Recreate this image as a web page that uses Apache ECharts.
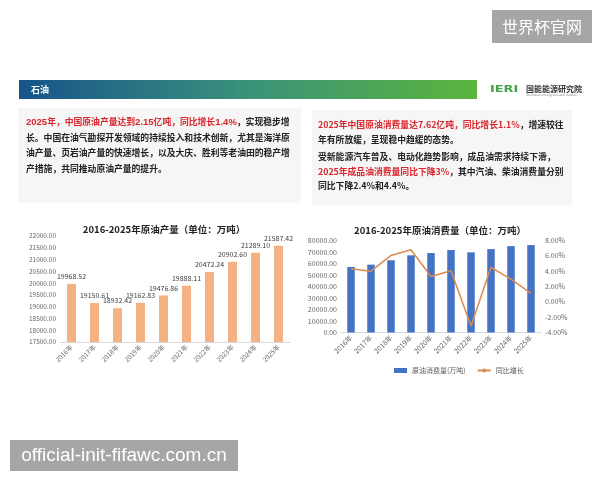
<!DOCTYPE html>
<html>
<head>
<meta charset="utf-8">
<title>石油</title>
<script src="https://cdn.jsdelivr.net/npm/echarts@6/dist/echarts.min.js"></script>
<style>
html,body{margin:0;padding:0;background:#fff;}
#main{width:600px;height:480px;}
</style>
</head>
<body>
<div id="main"></div>
<script>
// 数据
var years = ['2016年','2017年','2018年','2019年','2020年','2021年','2022年','2023年','2024年','2025年'];
var outputValues = [19968.52, 19150.61, 18932.42, 19162.83, 19476.86, 19888.11, 20472.24, 20902.60, 21289.10, 21587.42];
var consumeValues = [57000, 59000, 62800, 67100, 69100, 71700, 69700, 72500, 75100, 76000];
var growthValues = [4.3, 4.0, 6.05, 6.8, 3.3, 4.05, -3.15, 4.5, 2.95, 1.1];

var font = 'Noto Sans CJK SC';
var red = '#D9262C';
var ink = '#222';

var myChart = echarts.init(document.getElementById('main'));

// 文本框样式
var boxRich = function (lh) {
    return {
        r: { fill: red, fontSize: 8.8, fontWeight: 'bold', fontFamily: font, lineHeight: lh },
        n: { fill: red, fontSize: 9.5, fontWeight: 'bold', fontFamily: 'Liberation Sans', lineHeight: lh },
        k: { fill: ink, fontSize: 8.8, fontWeight: 'bold', fontFamily: font, lineHeight: lh }
    };
};

var option = {
    backgroundColor: '#fff',
    animation: false,
    textStyle: { fontFamily: font },
    title: [
        {
            text: '2016-2025年原油产量（单位：万吨）',
            left: 159, top: 220, textAlign: 'center',
            textStyle: { fontSize: 9.5, fontWeight: 'bold', color: ink, fontFamily: font }
        },
        {
            text: '2016-2025年原油消费量（单位：万吨）',
            left: 435, top: 221, textAlign: 'center',
            textStyle: { fontSize: 9.5, fontWeight: 'bold', color: ink, fontFamily: font }
        }
    ],
    legend: {
        left: 389, top: 362,
        itemWidth: 13, itemHeight: 5, itemGap: 11,
        textStyle: { fontSize: 7, color: '#595959', fontFamily: font },
        data: [
            { name: '原油消费量(万吨)', icon: 'rect' },
            { name: '同比增长' }
        ]
    },
    grid: [
        { left: 60, top: 236, width: 230, height: 106 },
        { left: 341, top: 240.5, width: 200, height: 92 }
    ],
    xAxis: [
        {
            type: 'category', gridIndex: 0, data: years,
            axisLine: { lineStyle: { color: '#D9D9D9' } },
            axisTick: { show: false },
            axisLabel: { rotate: 45, fontSize: 6.5, color: '#666', margin: 4, interval: 0 }
        },
        {
            type: 'category', gridIndex: 1, data: years,
            axisLine: { lineStyle: { color: '#D9D9D9' } },
            axisTick: { show: false },
            axisLabel: { rotate: 45, fontSize: 7, color: '#666', margin: 4, interval: 0 }
        }
    ],
    yAxis: [
        {
            type: 'value', gridIndex: 0, min: 17500, max: 22000, interval: 500,
            splitLine: { show: false },
            axisLabel: { fontSize: 6.5, color: '#666', margin: 4,
                formatter: function (v) { return v.toFixed(2); } }
        },
        {
            type: 'value', gridIndex: 1, min: 0, max: 80000, interval: 10000,
            splitLine: { show: false },
            axisLabel: { fontSize: 7, color: '#666', margin: 4,
                formatter: function (v) { return v.toFixed(2); } }
        },
        {
            type: 'value', gridIndex: 1, position: 'right', min: -4, max: 8, interval: 2,
            splitLine: { show: false },
            axisLine: { show: false },
            axisLabel: { fontSize: 7, color: '#666', margin: 4,
                formatter: function (v) { return v.toFixed(2) + '%'; } }
        }
    ],
    series: [
        {
            name: '原油产量', type: 'bar', xAxisIndex: 0, yAxisIndex: 0,
            data: outputValues, barWidth: 9,
            itemStyle: { color: '#F4B183' },
            label: { show: true, position: 'top', distance: 4, fontSize: 7, color: '#404040',
                formatter: function (p) { return p.value.toFixed(2); } }
        },
        {
            name: '原油消费量(万吨)', type: 'bar', xAxisIndex: 1, yAxisIndex: 1,
            data: consumeValues, barWidth: 7.5,
            itemStyle: { color: '#4472C4' }
        },
        {
            name: '同比增长', type: 'line', xAxisIndex: 1, yAxisIndex: 2,
            data: growthValues, symbol: 'none', z: 5,
            lineStyle: { color: '#DC8A4E', width: 1.5 },
            itemStyle: { color: '#DC8A4E' }
        }
    ],
    graphic: [
        // 顶部水印
        { type: 'rect', shape: { x: 492, y: 10, width: 100, height: 33 }, style: { fill: '#A6A6A6' } },
        { type: 'text', style: { x: 542, y: 26.5, text: '世界杯官网', fill: '#fff', font: '16px "Noto Sans CJK SC"', textAlign: 'center', textVerticalAlign: 'middle' } },
        // 标题条
        { type: 'rect', shape: { x: 19, y: 80, width: 458, height: 19 },
          style: { fill: new echarts.graphic.LinearGradient(0, 0, 1, 0, [
              { offset: 0, color: '#17548C' }, { offset: 0.5, color: '#3A927A' }, { offset: 1, color: '#5BB53C' }]) } },
        { type: 'text', style: { x: 31, y: 90, text: '石油', fill: '#fff', font: 'bold 9px "Noto Sans CJK SC"', textVerticalAlign: 'middle' } },
        // logo
        { type: 'text', x: 490, y: 90, scaleX: 1.35, style: { x: 0, y: 0, text: 'IERI', fill: '#3FA34D', font: 'bold 9.5px "DejaVu Sans"', textVerticalAlign: 'middle' } },
        { type: 'text', style: { x: 526, y: 88.5, text: '国能能源研究院', fill: '#333', font: 'bold 8px "Noto Sans CJK SC"', textVerticalAlign: 'middle' } },
        { type: 'text', style: { x: 526, y: 95, text: 'International Energy Research Institute', fill: '#777', font: '2.6px "DejaVu Sans"', textVerticalAlign: 'middle' } },
        // 文本框
        { type: 'rect', shape: { x: 18, y: 108, width: 283, height: 95 }, style: { fill: '#F6F6F6' } },
        { type: 'rect', shape: { x: 312, y: 110, width: 260, height: 95 }, style: { fill: '#F6F6F6' } },
        { type: 'text', style: {
            x: 26, y: 114.3,
            text: '{n|2025}{r|年，中国原油产量达到}{n|2.15}{r|亿吨，同比增长}{n|1.4%}{k|，实现稳步增}\n' +
                  '{k|长。中国在油气勘探开发领域的持续投入和技术创新，尤其是海洋原}\n' +
                  '{k|油产量、页岩油产量的快速增长，以及大庆、胜利等老油田的稳产增}\n' +
                  '{k|产措施，共同推动原油产量的提升。}',
            rich: boxRich(15.5) } },
        { type: 'text', style: {
            x: 318, y: 117.8,
            text: '{r|2025年中国原油消费量达7.62亿吨，同比增长1.1%}{k|，增速较往}\n' +
                  '{k|年有所放缓，呈现稳中趋缓的态势。}',
            rich: boxRich(14.5) } },
        { type: 'text', style: {
            x: 318, y: 149.8,
            text: '{k|受新能源汽车普及、电动化趋势影响，成品油需求持续下滑，}\n' +
                  '{r|2025年成品油消费量同比下降3%}{k|，其中汽油、柴油消费量分别}\n' +
                  '{k|同比下降2.4%和4.4%。}',
            rich: boxRich(14.5) } },
        // 底部水印
        { type: 'rect', shape: { x: 10, y: 440, width: 228, height: 31 }, style: { fill: '#A6A6A6' } },
        { type: 'text', style: { x: 124, y: 455.5, text: 'official-init-fifawc.com.cn', fill: '#fff', font: '19px "Liberation Sans"', textAlign: 'center', textVerticalAlign: 'middle' } }
    ]
};
myChart.setOption(option);
</script>
</body>
</html>
